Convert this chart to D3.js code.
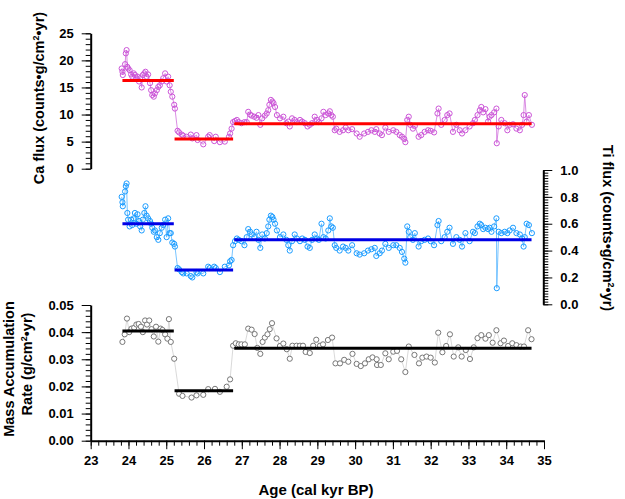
<!DOCTYPE html>
<html>
<head>
<meta charset="utf-8">
<script src="https://cdn.jsdelivr.net/npm/d3@7"></script>
<style>
  body { margin: 0; background: #fff; }
  text { font-family: "Liberation Sans", Arial, Helvetica, sans-serif; font-weight: bold; }
</style>
</head>
<body>
<div id="chart"></div>
<script>
// XRF scan samples: age (cal kyr BP), Ca flux, Ti flux
const xrfAge = [23.82,23.84,23.85,23.91,23.93,23.95,23.97,23.99,24.03,24.07,24.10,24.14,24.17,24.21,24.24,24.28,24.31,24.35,24.38,24.42,24.45,24.48,24.52,24.57,24.60,24.63,24.67,24.70,24.75,24.79,24.83,24.88,24.92,24.97,25.01,25.05,25.09,25.12,25.16,25.21,25.23,
  25.30,25.34,25.41,25.45,25.54,25.65,25.69,25.80,25.83,25.98,26.11,26.15,26.27,26.31,26.42,26.55,26.66,26.69,26.73,26.77,
  26.82,26.87,26.92,26.99,27.07,27.13,27.17,27.22,27.26,27.33,27.39,27.44,27.49,27.54,27.61,27.66,27.70,27.73,27.77,27.81,27.84,27.88,27.93,28.01,28.10,28.18,28.23,28.27,28.33,28.40,28.46,28.54,28.60,28.67,28.74,28.80,28.86,28.93,28.99,29.04,29.11,29.16,29.22,29.29,
  29.33,29.37,29.41,29.46,29.50,29.59,29.68,29.75,29.82,29.92,30.04,30.12,30.24,30.34,30.43,30.52,30.56,30.65,30.71,30.80,30.89,31.01,31.09,31.18,31.24,31.30,31.33,31.38,31.42,31.46,31.53,31.58,31.68,31.75,31.84,31.93,32.00,32.09,32.18,32.21,32.28,32.37,32.44,32.50,32.59,32.68,32.77,32.83,32.92,33.03,33.12,33.17,33.24,33.30,33.34,33.39,33.45,33.52,33.56,33.61,33.68,33.74,33.75,33.80,33.87,33.96,34.03,34.09,34.18,34.27,34.36,34.42,34.46,34.49,34.54,34.60,34.68];

const caFlux = [18.5,17.9,17.3,19.3,21.3,21.9,18.8,18.5,18.2,17.4,17.0,17.6,17.3,16.7,17.0,16.1,16.7,15.0,17.3,17.6,17.9,17.0,17.4,15.8,14.5,13.6,13.3,13.9,14.5,15.1,15.4,16.1,16.7,17.6,16.1,17.0,15.4,14.2,13.3,11.8,11.1,
  7.0,6.7,6.3,6.1,5.9,6.3,5.6,6.2,5.3,4.5,5.9,6.2,5.1,5.9,4.9,5.0,5.9,6.5,7.4,8.6,
  8.8,9.0,8.6,8.4,8.6,8.6,10.5,10.0,9.8,9.6,9.4,9.9,8.1,9.3,9.8,10.2,10.8,11.8,12.7,12.4,12.1,11.4,9.9,9.3,9.6,8.4,8.7,7.8,9.3,9.0,8.6,9.0,8.7,8.4,7.8,8.1,8.4,9.6,9.0,8.6,9.3,10.5,9.9,10.2,
  10.6,9.9,9.6,7.1,7.4,6.8,7.1,7.6,7.1,7.3,6.5,5.9,6.5,6.8,7.1,6.8,7.3,6.5,6.2,7.6,6.8,7.1,6.8,6.2,5.9,5.5,4.9,9.0,9.6,8.1,7.4,7.9,5.9,6.2,6.8,7.1,7.0,6.7,10.2,11.1,8.1,9.0,9.9,10.2,6.8,8.1,7.1,6.5,7.1,7.8,8.4,9.0,9.9,10.8,11.4,10.4,11.0,8.7,9.6,9.9,10.4,11.1,4.7,7.8,9.0,8.4,7.1,8.1,8.2,7.4,7.1,8.1,9.9,13.6,8.7,9.9,8.1];

const tiFlux = [0.80,0.76,0.73,0.84,0.88,0.90,0.68,0.63,0.58,0.63,0.59,0.64,0.68,0.60,0.67,0.62,0.58,0.55,0.63,0.68,0.73,0.66,0.64,0.62,0.60,0.57,0.54,0.55,0.50,0.48,0.53,0.57,0.59,0.63,0.50,0.64,0.53,0.53,0.46,0.45,0.43,
  0.27,0.26,0.24,0.23,0.23,0.21,0.20,0.24,0.23,0.23,0.28,0.27,0.28,0.27,0.24,0.28,0.29,0.32,0.33,0.44,
  0.47,0.49,0.48,0.47,0.44,0.50,0.56,0.54,0.52,0.50,0.54,0.48,0.42,0.52,0.49,0.53,0.58,0.63,0.66,0.65,0.63,0.60,0.55,0.50,0.52,0.48,0.44,0.40,0.47,0.52,0.49,0.47,0.49,0.48,0.43,0.42,0.48,0.52,0.49,0.48,0.60,0.50,0.49,0.55,
  0.64,0.58,0.57,0.44,0.42,0.40,0.43,0.42,0.40,0.44,0.38,0.37,0.38,0.40,0.41,0.42,0.36,0.38,0.40,0.45,0.42,0.44,0.44,0.42,0.39,0.34,0.31,0.58,0.54,0.50,0.48,0.53,0.43,0.47,0.48,0.49,0.47,0.44,0.59,0.62,0.47,0.50,0.54,0.57,0.45,0.50,0.48,0.43,0.53,0.47,0.54,0.53,0.58,0.60,0.59,0.56,0.57,0.56,0.57,0.54,0.58,0.64,0.12,0.54,0.53,0.54,0.53,0.55,0.57,0.53,0.52,0.49,0.43,0.50,0.60,0.59,0.53];

// bulk samples: age and mass accumulation rate (g/cm2/yr)
const marAge = [23.84,23.90,23.96,24.02,24.08,24.15,24.21,24.27,24.33,24.38,24.44,24.49,24.55,24.61,24.67,24.73,24.79,24.85,24.90,24.97,25.03,25.07,25.12,25.21,
  25.34,25.43,25.67,25.80,25.98,26.11,26.29,26.42,26.60,26.69,
  26.77,26.84,26.92,26.99,27.08,27.17,27.26,27.34,27.41,27.49,27.55,27.61,27.68,27.74,27.80,27.92,28.01,28.10,28.19,28.27,28.34,28.45,28.54,28.62,28.69,28.80,28.89,28.97,29.07,29.15,29.28,29.39,
  29.48,29.60,29.71,29.82,29.93,30.04,30.15,30.26,30.36,30.46,30.57,30.58,30.68,30.80,30.89,31.01,31.11,31.22,31.33,31.42,31.57,31.69,31.78,31.89,32.00,32.11,32.20,32.31,32.41,32.51,32.61,32.73,32.82,32.93,33.04,33.14,33.24,33.34,33.45,33.54,33.64,33.74,33.85,33.94,34.05,34.16,34.27,34.38,34.47,34.58,34.67];

const mar = [0.0364,0.0392,0.0450,0.0400,0.0413,0.0416,0.0428,0.0430,0.0420,0.0400,0.0443,0.0428,0.0443,0.0411,0.0384,0.0420,0.0365,0.0413,0.0408,0.0392,0.0376,0.0448,0.0364,0.0302,
  0.0173,0.0165,0.0159,0.0167,0.0169,0.0190,0.0191,0.0180,0.0199,0.0226,
  0.0350,0.0359,0.0355,0.0355,0.0355,0.0413,0.0409,0.0393,0.0342,0.0320,0.0364,0.0380,0.0392,0.0411,0.0433,0.0377,0.0349,0.0358,0.0337,0.0302,0.0350,0.0350,0.0350,0.0350,0.0327,0.0323,0.0350,0.0372,0.0350,0.0355,0.0371,0.0380,
  0.0285,0.0285,0.0298,0.0291,0.0320,0.0283,0.0275,0.0285,0.0300,0.0307,0.0300,0.0279,0.0279,0.0322,0.0300,0.0328,0.0331,0.0300,0.0253,0.0347,0.0316,0.0285,0.0306,0.0310,0.0306,0.0288,0.0398,0.0326,0.0349,0.0392,0.0310,0.0344,0.0310,0.0334,0.0301,0.0344,0.0378,0.0389,0.0376,0.0389,0.0361,0.0407,0.0359,0.0369,0.0349,0.0359,0.0352,0.0347,0.0347,0.0407,0.0374];

// interval means
const meanStart = [23.84, 25.22, 26.80];
const meanEnd = [25.20, 26.77, 34.67];
const caMean = [16.3, 5.5, 8.3];
const tiMean = [0.60, 0.255, 0.48];
const marMean = [0.0404, 0.0184, 0.0341];

const W = 625, H = 499;
const svg = d3.select("#chart").append("svg").attr("width", W).attr("height", H);

const x = d3.scaleLinear().domain([23, 35]).range([90.7, 544]);
const yCa = d3.scaleLinear().domain([0, 25]).range([168.7, 33.3]);
const yTi = d3.scaleLinear().domain([0, 1]).range([304.3, 170]);
const yMar = d3.scaleLinear().domain([0, 0.05]).range([440.7, 305]);

//draws one axis with minor and major ticks
function drawAxis(axisFn, scale, pos, majors, minors, fmt, isX) {
    const g = svg.append("g").attr("transform", isX ? "translate(0," + pos + ")" : "translate(" + pos + ",0)");
    g.append("g")
        .call(axisFn(scale).tickValues(minors).tickSize(5).tickSizeOuter(0).tickFormat(""))
        .call(a => a.select(".domain").remove());
    const major = g.append("g")
        .call(axisFn(scale).tickValues(majors).tickSize(isX ? 8.5 : 9).tickSizeOuter(0).tickPadding(isX ? 7 : 8).tickFormat(fmt));
    major.select(".domain").attr("stroke-width", 2);
    major.selectAll("text").attr("font-size", 13).attr("fill", "#000");
    g.selectAll(".tick line").attr("stroke", "#000");
    return g;
}

const caMajor = [0, 5, 10, 15, 20, 25];
const tiMajor = [0, 0.2, 0.4, 0.6, 0.8, 1.0];
const marMajor = [0, 0.01, 0.02, 0.03, 0.04, 0.05];
const ageMajor = [23, 24, 25, 26, 27, 28, 29, 30, 31, 32, 33, 34, 35];

drawAxis(d3.axisLeft, yCa, 90.7, caMajor, d3.range(0, 25.5, 1), d3.format("d"), false);
drawAxis(d3.axisRight, yTi, 543.3, tiMajor, d3.range(0, 51).map(i => i * 0.02), d3.format(".1f"), false);
drawAxis(d3.axisLeft, yMar, 90.7, marMajor, d3.range(0, 26).map(i => i * 0.002), d3.format(".2f"), false);
drawAxis(d3.axisBottom, x, 440.7, ageMajor, d3.range(0, 61).map(i => 23 + i * 0.2), d3.format("d"), true);

//plots a series with a thin joining line and open circles
function drawSeries(ages, vals, y, lineColor, dotColor, fill) {
    const pts = ages.map((a, i) => ({age: a, v: vals[i]}));
    const line = d3.line().x(d => x(d.age)).y(d => y(d.v));
    svg.append("path").datum(pts)
        .attr("fill", "none").attr("stroke", lineColor).attr("stroke-width", 0.8)
        .attr("d", line);
    svg.append("g").selectAll("circle").data(pts).join("circle")
        .attr("cx", d => x(d.age)).attr("cy", d => y(d.v)).attr("r", 2.6)
        .attr("fill", fill).attr("stroke", dotColor).attr("stroke-width", 1);
}

function drawMeans(means, y, color) {
    svg.append("g").selectAll("line").data(means).join("line")
        .attr("x1", (d, i) => x(meanStart[i])).attr("x2", (d, i) => x(meanEnd[i]))
        .attr("y1", d => y(d)).attr("y2", d => y(d))
        .attr("stroke", color).attr("stroke-width", 3);
}

drawSeries(xrfAge, caFlux, yCa, "#d070dc", "#cc55d8", "none");
drawMeans(caMean, yCa, "#ff0000");
drawSeries(xrfAge, tiFlux, yTi, "#55b5ff", "#1a9cff", "none");
drawMeans(tiMean, yTi, "#0000e6");
drawSeries(marAge, mar, yMar, "#cfcfcf", "#777777", "#fff");
drawMeans(marMean, yMar, "#000");

// axis titles
svg.append("text").attr("transform", "translate(44,98) rotate(-90)")
    .attr("text-anchor", "middle").attr("font-size", 14.5)
    .html('Ca flux (counts•g/cm<tspan font-size="9" dy="-5">2</tspan><tspan dy="5">•yr)</tspan>');

svg.append("text").attr("transform", "translate(603,228) rotate(90)")
    .attr("text-anchor", "middle").attr("font-size", 14.5)
    .html('Ti flux (counts•g/cm<tspan font-size="9" dy="-5">2</tspan><tspan dy="5">•yr)</tspan>');

svg.append("text").attr("transform", "translate(14,369) rotate(-90)")
    .attr("text-anchor", "middle").attr("font-size", 14.5)
    .text("Mass Accumulation");
svg.append("text").attr("transform", "translate(32,364) rotate(-90)")
    .attr("text-anchor", "middle").attr("font-size", 14.5)
    .html('Rate (g/cm<tspan font-size="9" dy="-5">2</tspan><tspan dy="5">•yr)</tspan>');

svg.append("text").attr("x", 316).attr("y", 495)
    .attr("text-anchor", "middle").attr("font-size", 15)
    .text("Age (cal kyr BP)");
</script>
</body>
</html>
